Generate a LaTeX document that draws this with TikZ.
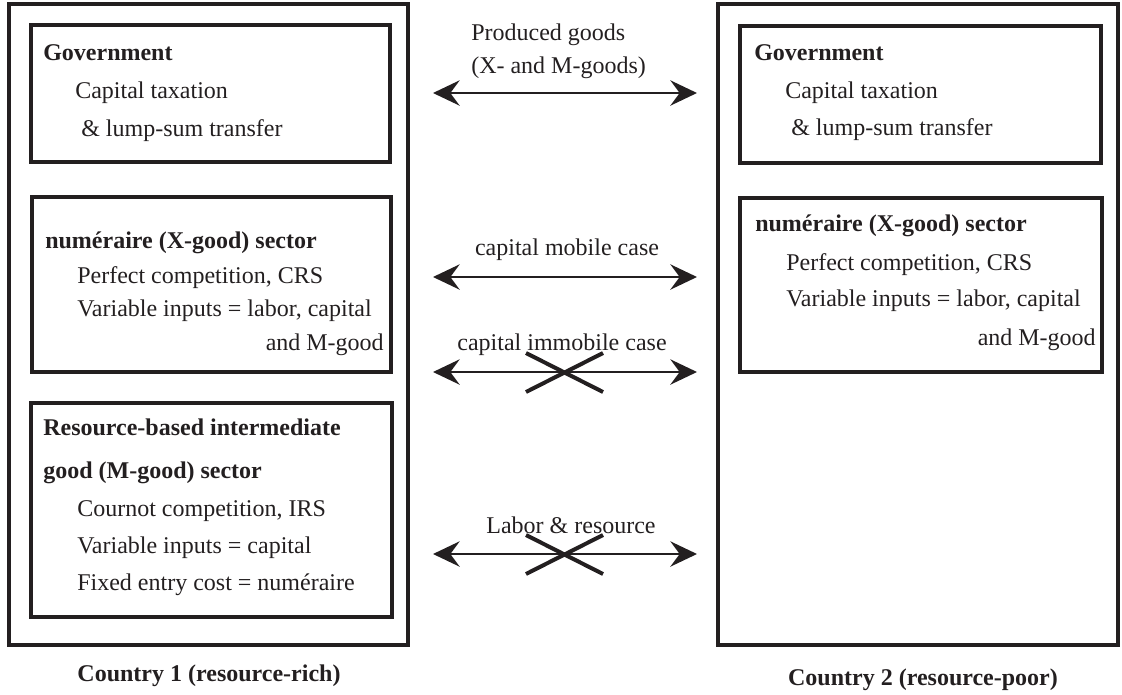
\documentclass[tikz,border=0pt]{standalone}
\usepackage{fontspec}
\setmainfont{Liberation Serif}
\usetikzlibrary{arrows.meta}
\definecolor{ink}{HTML}{231F20}
\tikzset{
  outerbox/.style={draw=ink, line width=2.5pt},
  sectorbox/.style={draw=ink, line width=3pt},
  txt/.style={anchor=base west, inner sep=0pt, text=ink, font=\fontsize{18}{21}\selectfont},
  hd/.style={txt, font=\fontsize{18}{21}\selectfont\bfseries},
  lbl/.style={anchor=base, inner sep=0pt, text=ink, font=\fontsize{18}{21}\selectfont},
  flow/.style={draw=ink, line width=1.5pt, {Stealth[length=20pt,width=19pt,inset=7pt]}-{Stealth[length=20pt,width=19pt,inset=7pt]}},
  crossout/.style={draw=ink, line width=3pt}
}
\begin{document}
\begin{tikzpicture}[x=0.75pt,y=-0.75pt]
			\useasboundingbox (0,0) rectangle (1122,694);
			% countries
			\draw[outerbox] (9,4) rectangle (408,645);
			\draw[outerbox] (718,4) rectangle (1118,645);
			\node[hd, anchor=base] (cty1) at (209,681) {Country 1 (resource-rich)};
			\node[hd, anchor=base] (cty2) at (923,685) {Country 2 (resource-poor)};
			% country 1
			\draw[sectorbox] (31,25) rectangle (390,162);
			\node[hd] (gov1) at (43,60) {Government};
			\node[txt] (gov1a) at (75,98) {Capital taxation};
			\node[txt] (gov1b) at (81,136) {\& lump-sum transfer};
			\draw[sectorbox] (32,197) rectangle (391,372);
			\node[hd] (num1) at (45,248) {numéraire (X-good) sector};
			\node[txt] (num1a) at (77,283) {Perfect competition, CRS};
			\node[txt] (num1b) at (77,316) {Variable inputs = labor, capital};
			\node[txt, anchor=base east] (num1c) at (384,350) {and M-good};
			\draw[sectorbox] (31,403) rectangle (392,617);
			\node[hd] (res1) at (43,435) {Resource-based intermediate};
			\node[hd] (res1a) at (43,478) {good (M-good) sector};
			\node[txt] (res1b) at (77,516) {Cournot competition, IRS};
			\node[txt] (res1c) at (77,553) {Variable inputs = capital};
			\node[txt] (res1d) at (77,590) {Fixed entry cost = numéraire};
			% country 2
			\draw[sectorbox] (740,26) rectangle (1101,163);
			\node[hd] (gov2) at (754,60) {Government};
			\node[txt] (gov2a) at (785,98) {Capital taxation};
			\node[txt] (gov2b) at (791,135) {\& lump-sum transfer};
			\draw[sectorbox] (740,198) rectangle (1102,372);
			\node[hd] (num2) at (755,231) {numéraire (X-good) sector};
			\node[txt] (num2a) at (786,270) {Perfect competition, CRS};
			\node[txt] (num2b) at (786,306) {Variable inputs = labor, capital};
			\node[txt, anchor=base east] (num2c) at (1096,345) {and M-good};
			% flows between countries
			\foreach \y/\n in {93/goods,277/mobile,372/immobile,554/labor} {
				\coordinate (\n-l) at (433,\y);
				\coordinate (\n-r) at (697,\y);
				\draw[flow] (\n-l) -- (\n-r);
			}
			\node[txt] (goodsA) at (471,40) {Produced goods};
			\node[txt] (goodsB) at (471,73) {(X- and M-goods)};
			\node[lbl] (mobileT) at (567,255) {capital mobile case};
			\node[lbl] (immobileT) at (562,350) {capital immobile case};
			\node[lbl] (laborT) at (571,533) {Labor \& resource};
			\foreach \y in {372,554} {
				\draw[crossout] (526,\y-19) -- (603,\y+20);
				\draw[crossout] (526,\y+20) -- (603,\y-19);
			}
		\end{tikzpicture}
\end{document}
